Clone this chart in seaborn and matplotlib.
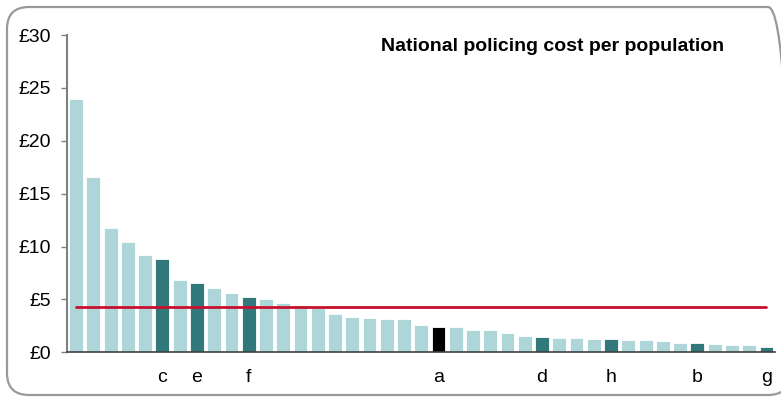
import matplotlib
matplotlib.use("Agg")
import matplotlib.pyplot as plt
import matplotlib.patches as mpatches
from matplotlib.transforms import IdentityTransform
import seaborn as sns
import pandas as pd
import numpy as np

# cost per head, sorted high to low (41 forces)
values = [24.0, 16.6, 11.8, 10.4, 9.25, 8.87, 6.8, 6.6, 6.04, 5.6,
          5.19, 5.06, 4.68, 4.46, 4.2, 3.58, 3.33, 3.24, 3.17, 3.13,
          2.6, 2.39, 2.36, 2.13, 2.07, 1.82, 1.5, 1.44, 1.38, 1.35,
          1.29, 1.26, 1.16, 1.13, 1.04, 0.88, 0.88, 0.75, 0.69, 0.69,
          0.47]
# letter shown under highlighted bars
labels = ['', '', '', '', '', 'c', '', 'e', '', '',
          'f', '', '', '', '', '', '', '', '', '',
          '', 'a', '', '', '', '', '', 'd', '', '',
          '', 'h', '', '', '', '', 'b', '', '', '',
          'g']
national_avg = 4.27
yticks = [0, 5, 10, 15, 20, 25, 30]

light = '#aed6d9'
dark = '#30787a'
colors = []
for lab in labels:
    if lab == 'a':
        colors.append('#000000')
    elif lab:
        colors.append(dark)
    else:
        colors.append(light)

df = pd.DataFrame({'pos': np.arange(len(values)).astype(str), 'value': values})

sns.set_style('white', {'text.color': 'black', 'xtick.color': 'black', 'ytick.color': 'black'})
plt.rcParams['font.family'] = ['Liberation Sans', 'DejaVu Sans']

fig = plt.figure(figsize=(7.81, 3.98), dpi=100)
ax = fig.add_axes([0.0864, 0.1148, 0.906, 0.797])

sns.barplot(data=df, x='pos', y='value', hue='pos', palette=colors, legend=False,
            width=0.8, edgecolor='white', linewidth=0.6, saturation=1, ax=ax)
ax.plot(np.arange(len(values)), [national_avg] * len(values), color='#c8102e', lw=2)

ax.set_xlim(-0.5, len(values) - 0.5)
ax.set_ylim(0, 30)
ax.set_yticks(yticks)
ax.set_yticklabels([f'£{v}' for v in yticks], fontsize=14, color='black')
ax.set_xticks(np.arange(len(values)))
ax.set_xticklabels(labels, fontsize=14, color='black')
ax.tick_params(axis='x', length=0, pad=12)
ax.tick_params(axis='y', length=4, width=1, color='#808080', pad=8, left=True)
ax.set_xlabel('')
ax.set_ylabel('')
for s in ['top', 'right']:
    ax.spines[s].set_visible(False)
ax.spines['left'].set_color('#808080')
ax.spines['left'].set_linewidth(1.5)
ax.spines['bottom'].set_color('#404040')
ax.spines['bottom'].set_linewidth(1.2)

fig.text(0.707, 0.884, 'National policing cost per population', ha='center', va='center',
         fontsize=14, fontweight='bold', color='black')

# rounded grey frame around the chart (right side runs off the image)
frame = mpatches.FancyBboxPatch((7, 3), 783, 388, boxstyle='round,pad=0,rounding_size=22',
                                transform=IdentityTransform(), fill=False,
                                edgecolor='#999999', linewidth=1.6)
fig.patches.append(frame)

fig.savefig('out.png', dpi=100)
